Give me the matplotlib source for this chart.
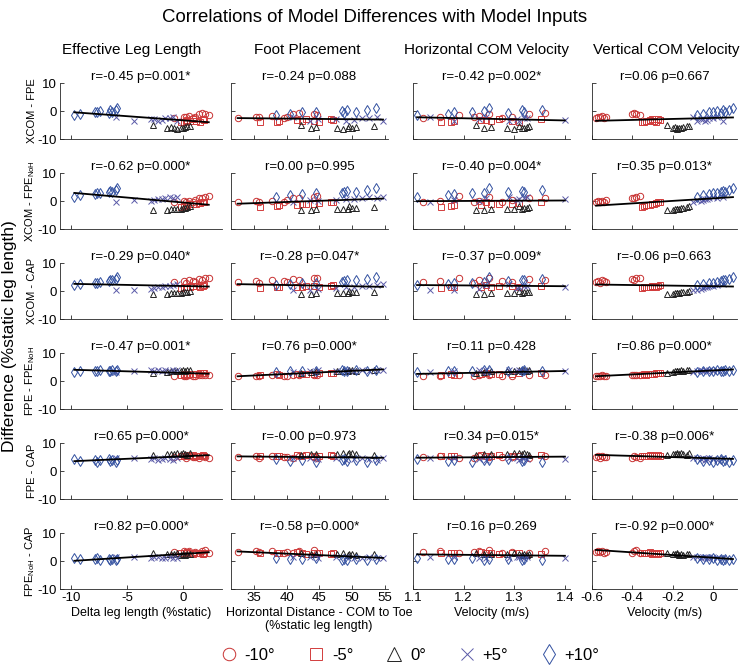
import numpy as np
import matplotlib
matplotlib.use('Agg')
import matplotlib.pyplot as plt
from matplotlib.lines import Line2D

plt.rcParams['font.family'] = ['Liberation Sans', 'DejaVu Sans']
plt.rcParams['mathtext.fontset'] = 'custom'
plt.rcParams['mathtext.rm'] = 'Liberation Sans'
plt.rcParams['mathtext.it'] = 'Liberation Sans'

### conditions (slope angle)
conditions = ['-10°', '-5°', '0°', '+5°', '+10°']
markers = ['o', 's', '^', 'x', 'd']
msizes = [4.6, 4.0, 5.0, 4.2, 5.2]
colors = ['#c83232', '#d23c3c', '#222222', '#5a5aa8', '#3250a0']

### model inputs (x, one list per condition, 10 trials each)
leg_len = [[-0.8, 0.1, 0.3, 0.5, 0.9, 1.1, 1.4, 1.7, 2.0, 2.3],
           [-0.2, 0.1, 0.3, 0.4, 0.6, 0.9, 1.2, 1.5, 1.8, 1.9],
           [-2.7, -1.4, -1.1, -0.8, -0.5, -0.2, 0.0, 0.2, 0.4, 0.6],
           [-6.0, -4.4, -2.9, -2.6, -2.2, -1.9, -1.6, -1.2, -0.9, -0.5],
           [-9.7, -9.2, -7.9, -7.7, -7.4, -6.6, -6.5, -6.3, -6.0, -5.9]]
foot_pl = [[32.5, 35.3, 35.8, 37.8, 39.6, 40.0, 41.0, 41.9, 44.1, 44.6],
           [36.0, 38.5, 38.9, 41.5, 42.3, 43.0, 44.2, 45.0, 46.8, 47.1],
           [42.2, 43.7, 44.4, 47.7, 48.6, 49.3, 49.9, 50.6, 53.3, 49.5],
           [41.0, 43.5, 44.8, 47.5, 49.0, 50.2, 51.5, 52.6, 53.8, 54.7],
           [38.4, 40.5, 42.3, 44.4, 48.4, 48.7, 49.2, 50.6, 52.2, 53.6]]
hor_vel = [[1.12, 1.153, 1.22, 1.23, 1.275, 1.295, 1.33, 1.36, 1.25, 1.19],
           [1.155, 1.175, 1.18, 1.235, 1.255, 1.27, 1.295, 1.31, 1.352, 1.245],
           [1.225, 1.24, 1.255, 1.285, 1.30, 1.315, 1.32, 1.325, 1.33, 1.31],
           [1.133, 1.18, 1.23, 1.305, 1.31, 1.40, 1.32, 1.325, 1.245, 1.29],
           [1.108, 1.17, 1.18, 1.216, 1.24, 1.287, 1.315, 1.32, 1.355, 1.25]]
ver_vel = [[-0.58, -0.57, -0.56, -0.55, -0.54, -0.53, -0.40, -0.39, -0.38, -0.36],
           [-0.35, -0.34, -0.33, -0.31, -0.30, -0.30, -0.29, -0.28, -0.27, -0.26],
           [-0.23, -0.20, -0.19, -0.18, -0.18, -0.17, -0.16, -0.15, -0.13, -0.12],
           [-0.10, -0.08, -0.06, -0.05, -0.04, -0.03, -0.02, 0.00, 0.02, 0.05],
           [-0.08, -0.05, -0.02, 0.00, 0.02, 0.04, 0.05, 0.06, 0.08, 0.10]]

### model differences (y, one list per condition)
xcom_fpe = [[-2.5, -2.0, -2.2, -1.8, -2.6, -2.3, -1.0, -0.8, -1.2, -1.5],
            [-3.8, -4.0, -3.5, -3.3, -3.6, -2.8, -3.4, -3.9, -3.0, -3.2],
            [-5.0, -6.0, -5.8, -6.2, -6.3, -5.9, -6.1, -5.6, -5.5, -5.3],
            [-2.0, -3.5, -2.8, -3.0, -3.7, -3.2, -2.6, -2.5, -2.2, -3.4],
            [-1.6, -1.1, -0.4, -0.2, 0.1, -0.6, 0.3, -0.3, 0.5, 1.0]]
xcom_fpenoh = [[-0.2, 0.0, -0.3, 0.1, -0.4, 0.2, 1.0, 1.2, 1.4, 1.8],
               [-2.0, -1.8, -1.6, -1.3, -1.2, -1.0, -0.9, -0.6, -0.4, -0.2],
               [-3.3, -3.2, -3.0, -2.9, -2.8, -2.7, -2.6, -2.5, -2.2, -1.8],
               [-0.5, 0.2, 0.0, 0.5, 0.8, 0.6, 1.0, 1.3, 1.1, 1.5],
               [1.5, 2.0, 2.4, 2.8, 3.0, 3.2, 3.5, 3.3, 3.8, 4.5]]
xcom_cap = [[3.2, 3.6, 3.0, 3.8, 3.4, 3.1, 4.2, 4.0, 4.5, 4.8],
            [1.2, 1.4, 1.3, 1.6, 1.5, 1.7, 1.8, 1.6, 1.9, 2.0],
            [-1.0, -0.9, -0.8, -0.8, -0.7, -0.6, -0.5, -0.5, -0.2, 0.0],
            [0.2, 0.5, 0.8, 1.0, 1.3, 1.5, 1.7, 1.9, 2.1, 2.5],
            [2.2, 2.5, 2.8, 3.0, 3.3, 3.6, 3.8, 4.0, 4.3, 5.0]]
fpe_fpenoh = [[1.8, 1.9, 1.7, 2.0, 1.8, 1.9, 2.1, 2.2, 2.0, 2.3],
              [2.2, 2.4, 2.3, 2.5, 2.4, 2.6, 2.5, 2.7, 2.8, 2.9],
              [3.0, 3.2, 3.4, 3.5, 3.6, 3.4, 3.8, 3.7, 3.9, 4.0],
              [3.3, 3.6, 3.8, 3.5, 3.9, 3.7, 4.0, 3.6, 3.8, 4.1],
              [3.2, 3.4, 3.6, 3.5, 3.8, 3.4, 3.7, 3.9, 3.6, 3.8]]
fpe_cap = [[5.0, 5.4, 4.8, 5.2, 4.9, 5.1, 4.7, 5.3, 5.0, 4.6],
           [5.2, 5.5, 5.3, 5.6, 5.4, 5.7, 5.5, 5.3, 5.6, 5.4],
           [5.8, 6.0, 6.2, 5.9, 6.3, 6.1, 6.4, 6.0, 5.7, 6.5],
           [4.5, 4.8, 4.2, 4.6, 4.0, 4.4, 4.7, 4.3, 4.1, 4.5],
           [4.2, 3.6, 4.0, 3.3, 3.9, 4.3, 3.5, 3.8, 3.1, 4.1]]
fpenoh_cap = [[3.3, 3.6, 3.1, 3.5, 3.0, 3.2, 2.8, 3.4, 4.1, 2.7],
              [3.0, 2.9, 2.8, 3.1, 2.9, 2.6, 3.0, 2.7, 2.5, 2.8],
              [2.8, 2.6, 2.5, 2.4, 2.7, 2.3, 2.6, 2.2, 2.5, 2.4],
              [1.6, 1.4, 1.2, 1.5, 1.3, 1.1, 1.0, 1.4, 1.2, 0.9],
              [1.0, 0.8, 0.6, 0.9, 0.5, 0.7, 0.4, 0.6, 0.3, 0.8]]

inputs = [leg_len, foot_pl, hor_vel, ver_vel]
diffs = [xcom_fpe, xcom_fpenoh, xcom_cap, fpe_fpenoh, fpe_cap, fpenoh_cap]

col_titles = ['Effective Leg Length', 'Foot Placement',
              'Horizontal COM Velocity', 'Vertical COM Velocity']
row_labels = ['XCOM - FPE', r'XCOM - FPE$_{\mathrm{NoH}}$', 'XCOM - CAP',
              r'FPE - FPE$_{\mathrm{NoH}}$', 'FPE - CAP', r'FPE$_{\mathrm{NoH}}$ - CAP']
x_labels = ['Delta leg length (%static)',
            'Horizontal Distance - COM to Toe\n(%static leg length)',
            'Velocity (m/s)', 'Velocity (m/s)']
stats = [['r=-0.45 p=0.001*', 'r=-0.24 p=0.088', 'r=-0.42 p=0.002*', 'r=0.06 p=0.667'],
         ['r=-0.62 p=0.000*', 'r=0.00 p=0.995', 'r=-0.40 p=0.004*', 'r=0.35 p=0.013*'],
         ['r=-0.29 p=0.040*', 'r=-0.28 p=0.047*', 'r=-0.37 p=0.009*', 'r=-0.06 p=0.663'],
         ['r=-0.47 p=0.001*', 'r=0.76 p=0.000*', 'r=0.11 p=0.428', 'r=0.86 p=0.000*'],
         ['r=0.65 p=0.000*', 'r=-0.00 p=0.973', 'r=0.34 p=0.015*', 'r=-0.38 p=0.006*'],
         ['r=0.82 p=0.000*', 'r=-0.58 p=0.000*', 'r=0.16 p=0.269', 'r=-0.92 p=0.000*']]
x_ticks = [[-10, -5, 0], [35, 40, 45, 50, 55], [1.1, 1.2, 1.3, 1.4], [-0.6, -0.4, -0.2, 0]]
x_ticklabels = [['-10', '-5', '0'], ['35', '40', '45', '50', '55'],
                ['1.1', '1.2', '1.3', '1.4'], ['-0.6', '-0.4', '-0.2', '0']]
x_lims = [(-10.98, 3.48), (31.5, 55.46), (1.1, 1.41), (-0.6, 0.12)]

### layout in pixels (figure 749 x 667)
W, H = 749., 667.
col_px = [(60, 222), (231, 388), (413, 570), (592, 737)]
title_px = [132, 307, 486, 666]
row_top = [83 + 90 * i for i in range(6)]
row_h = 56

fig = plt.figure(figsize=(7.49, 6.67), dpi=100)
fig.text(0.5, 1 - 18 / H, 'Correlations of Model Differences with Model Inputs',
         ha='center', va='center', fontsize=13.4)
fig.text(10 / W, 1 - 336 / H, 'Difference (%static leg length)', rotation=90,
         ha='center', va='center', fontsize=12.5)

for r in range(6):
    for c in range(4):
        x0, x1 = col_px[c]
        ax = fig.add_axes([x0 / W, 1 - (row_top[r] + row_h) / H, (x1 - x0) / W, row_h / H])
        xall, yall = [], []
        for k in range(5):
            ax.plot(inputs[c][k], diffs[r][k], linestyle='none', marker=markers[k],
                    mfc='none', mec=colors[k], ms=msizes[k], mew=0.7)
            xall += inputs[c][k]
            yall += diffs[r][k]
        xall = np.array(xall)
        yall = np.array(yall)
        p = np.polyfit(xall, yall, 1)
        xs = np.array([xall.min(), xall.max()])
        ax.plot(xs, np.polyval(p, xs), c='k', lw=1.3)

        ax.set_xlim(x_lims[c])
        ax.set_ylim(-10, 10)
        ax.set_yticks([-10, 0, 10])
        ax.set_xticks(x_ticks[c])
        for s in ['top', 'right']:
            ax.spines[s].set_visible(False)
        for s in ['left', 'bottom']:
            ax.spines[s].set_color('#262626')
            ax.spines[s].set_linewidth(0.6)
        ax.tick_params(direction='in', length=3, width=0.6, colors='#262626',
                       labelcolor='k', labelsize=9.5, pad=2)
        ax.set_title(stats[r][c], fontsize=9.5, pad=1)
        if c == 0:
            ax.set_yticklabels(['-10', '0', '10'])
            ax.set_ylabel(row_labels[r], fontsize=8, labelpad=0.5)
        else:
            ax.set_yticklabels([])
        if r == 5:
            ax.set_xticklabels(x_ticklabels[c])
            ax.set_xlabel(x_labels[c], fontsize=9, labelpad=2, linespacing=1.15)
            if c == 1:
                ax.xaxis.label.set_x(0.56)
        else:
            ax.set_xticklabels([])
        if r == 0:
            fig.text(title_px[c] / W, 1 - 50 / H, col_titles[c], ha='center',
                     va='center', fontsize=11)

leg_ms = [9, 8, 9.5, 8.5, 10]
handles = [Line2D([], [], linestyle='none', marker=markers[k], mfc='none', mec=colors[k],
                  ms=leg_ms[k], mew=0.7) for k in range(5)]
fig.legend(handles, conditions, loc='center', bbox_to_anchor=(410 / W, 1 - 655 / H),
           ncol=5, frameon=False, fontsize=12, handletextpad=0.45, columnspacing=1.95,
           handlelength=1.0)

plt.savefig('out.png', dpi=100)
plt.close()
